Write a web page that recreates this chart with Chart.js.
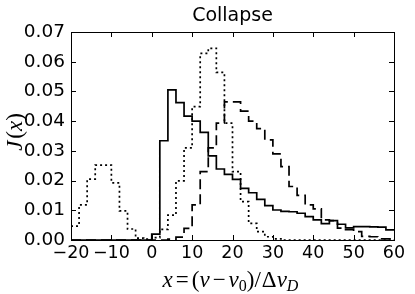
<!DOCTYPE html>
<html>
<head>
<meta charset="utf-8">
<script src="https://cdn.jsdelivr.net/npm/chart.js@4.4.1/dist/chart.umd.min.js"></script>
<style>
html,body{margin:0;padding:0;background:#fff;}
#caja{width:415px;height:294px;}
</style>
</head>
<body>
<div id="caja"><canvas id="myChart" width="415" height="294"></canvas></div>
<script>
// bordes de los bins (x)
const bordes = [-20,-18,-16,-14,-12,-10,-8,-6,-4,-2,0,2,4,6,8,10,12,14,16,18,20,
                 22,24,26,28,30,32,34,36,38,40,42,44,46,48,50,52,54,56,58,60];
// linea continua
const continua = [0,0,0,0,0,0,0,0,0,0,
    0.0020,0.0334,0.0505,0.0462,0.0417,0.0400,0.0362,0.0283,0.0239,0.0221,
    0.0204,0.0174,0.0159,0.0137,0.0116,0.0101,0.0096,0.0095,0.0090,0.0079,
    0.0068,0.0055,0.0065,0.0053,0.0041,0.0045,0.0045,0.0044,0.0043,0.0034];
// linea punteada
const punteada = [0.0047,0.0118,0.0205,0.0252,0.0252,0.0192,0.0098,0.0037,0.0006,0.0003,
    0.0008,0.0036,0.0084,0.0199,0.0310,0.0449,0.0628,0.0645,0.0564,0.0393,
    0.0230,0.0129,0.0056,0.0028,0.0011,0.0004,0,0,0,0,
    0,0,0,0,0,0,0,0,0,0];
// linea de guiones
const guiones = [0,0,0,0,0,0,0,0,0,0,
    0,0,0.0003,0.0010,0.0039,0.0118,0.0230,0.0310,0.0393,0.0465,
    0.0465,0.0434,0.0400,0.0375,0.0337,0.0290,0.0247,0.0180,0.0150,0.0118,
    0.0105,0.0068,0.0065,0.0040,0.0035,0.0028,0.0012,0.0011,0.0004,0.0004];
const ticksX = [-20,-10,0,10,20,30,40,50,60];
const ticksY = [0,0.01,0.02,0.03,0.04,0.05,0.06,0.07];
const titulo = 'Collapse';

const aPuntos = (vals) => bordes.map((b,i) => ({x:b, y: i<vals.length ? vals[i] : vals[vals.length-1]}));

const serif = '"Liberation Serif", "DejaVu Serif", serif';

const dibujarPartes = (ctx, partes, x, y) => {
    let total = 0;
    for (let p of partes) { ctx.font = p.f; total += ctx.measureText(p.t).width + (p.sp||0); }
    let px = x - total/2;
    for (let p of partes) {
        ctx.font = p.f;
        ctx.fillText(p.t, px, y + (p.dy||0));
        px += ctx.measureText(p.t).width + (p.sp||0);
    }
}

const marco = {
    id: 'marco',
    afterDatasetsDraw(chart) {
        const ctx = chart.ctx;
        const a = chart.chartArea;
        const sx = chart.scales.x, sy = chart.scales.y;
        ctx.save();
        ctx.strokeStyle = '#000';
        ctx.lineWidth = 1;
        ctx.strokeRect(Math.round(a.left)+0.5, Math.round(a.top)+0.5, Math.round(a.right-a.left), Math.round(a.bottom-a.top));
        ctx.beginPath();
        for (let t of ticksX) {
            let p = Math.round(sx.getPixelForValue(t))+0.5;
            ctx.moveTo(p, a.bottom); ctx.lineTo(p, a.bottom-5);
            ctx.moveTo(p, a.top); ctx.lineTo(p, a.top+5);
        }
        for (let t of ticksY) {
            let p = Math.round(sy.getPixelForValue(t))+0.5;
            ctx.moveTo(a.left, p); ctx.lineTo(a.left+5, p);
            ctx.moveTo(a.right, p); ctx.lineTo(a.right-5, p);
        }
        ctx.stroke();

        ctx.fillStyle = '#000';
        // titulo
        ctx.textAlign = 'center';
        ctx.textBaseline = 'alphabetic';
        ctx.font = '19px "DejaVu Sans"';
        ctx.fillText(titulo, (a.left+a.right)/2, 21);
        ctx.textAlign = 'left';

        // etiquetas de ejes
        const it = 'italic 23px ' + serif, rg = '23px ' + serif;
        const sub = '16px ' + serif, subIt = 'italic 16px ' + serif;
        dibujarPartes(ctx, [
            {t:'x', f:it, sp:3}, {t:'=', f:rg, sp:3}, {t:'(', f:rg}, {t:'ν', f:it, sp:3},
            {t:'−', f:rg, sp:3}, {t:'ν', f:it}, {t:'0', f:sub, dy:4}, {t:')', f:rg},
            {t:'/', f:rg, sp:1}, {t:'Δ', f:rg}, {t:'ν', f:it}, {t:'D', f:subIt, dy:4}
        ], (a.left+a.right)/2 - 2, 287);

        ctx.translate(16, (a.top+a.bottom)/2 - 4);
        ctx.rotate(-Math.PI/2);
        ctx.textBaseline = 'middle';
        dibujarPartes(ctx, [
            {t:'J', f:it, sp:2}, {t:'(', f:rg}, {t:'x', f:it}, {t:')', f:rg}
        ], 0, 0);
        ctx.restore();
    }
};

const ctx = document.getElementById('myChart');
const config = {
    type: 'line',
    data: {
        datasets: [
            {label:'continua', data: aPuntos(continua), borderColor:'#000', borderWidth:1.7, stepped:true, pointRadius:0, fill:false},
            {label:'punteada', data: aPuntos(punteada), borderColor:'#000', borderWidth:1.7, borderDash:[2,3], stepped:true, pointRadius:0, fill:false},
            {label:'guiones', data: aPuntos(guiones), borderColor:'#000', borderWidth:1.7, borderDash:[10,5], stepped:true, pointRadius:0, fill:false}
        ]
    },
    options: {
        responsive: false,
        animation: false,
        layout: { padding: { left:0, right:21, top:32, bottom:0 } },
        plugins: {
            legend: { display:false },
            tooltip: { enabled:false },
            title: { display:false }
        },
        scales: {
            x: {
                type: 'linear', min:-20, max:60,
                grid: { display:false, drawTicks:false },
                border: { display:false },
                afterBuildTicks: (s) => { s.ticks = ticksX.map(v => ({value:v})); },
                afterFit: (s) => { s.height = 54; },
                ticks: {
                    color:'#000', padding:3, maxRotation:0, autoSkip:false,
                    font: { family:'"DejaVu Sans"', size:17.5 },
                    callback: (v) => String(v).replace('-', '\u2212')
                }
            },
            y: {
                type: 'linear', min:0, max:0.07,
                grid: { display:false, drawTicks:false },
                border: { display:false },
                afterBuildTicks: (s) => { s.ticks = ticksY.map(v => ({value:v})); },
                afterFit: (s) => { s.width = 71; },
                ticks: {
                    color:'#000', padding:6, autoSkip:false,
                    font: { family:'"DejaVu Sans"', size:18.5 },
                    callback: (v) => Number(v).toFixed(2)
                }
            }
        }
    },
    plugins: [marco]
};
const myChart = new Chart(ctx, config);
</script>
</body>
</html>
